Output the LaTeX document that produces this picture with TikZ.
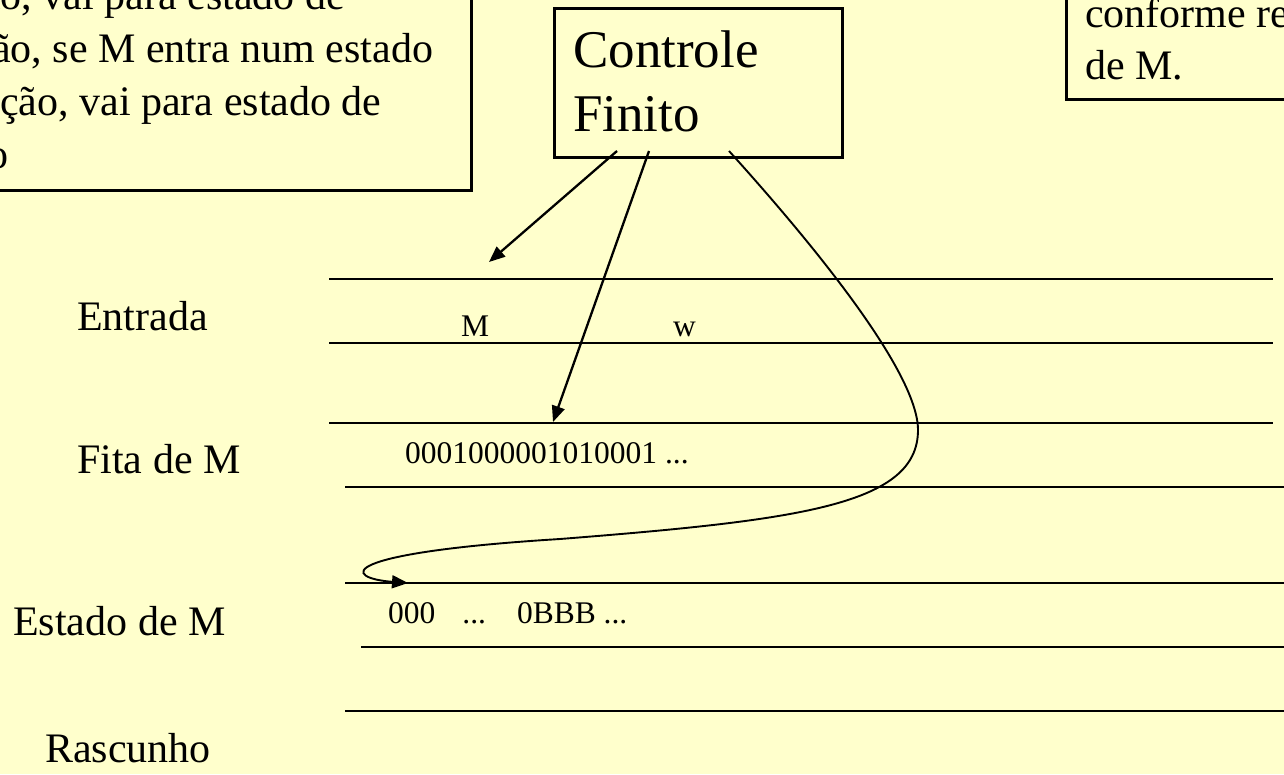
\documentclass[tikz,border=0pt]{standalone}
\usepackage{fontspec}
\setmainfont{Liberation Serif}
\usetikzlibrary{arrows.meta}
\definecolor{slidebg}{HTML}{FFFFCC}
\begin{document}
\begin{tikzpicture}[x=1pt,y=-1pt,
  tapeline/.style={line width=2.4pt},
  boxline/.style={draw, line width=2.6pt, inner sep=0pt},
  ptr/.style={line width=2.3pt, -{Triangle[length=16pt,width=13pt]}},
  big/.style={font=\fontsize{42}{52}\selectfont, inner sep=0pt, anchor=base west},
  huge/.style={font=\fontsize{53}{64}\selectfont, inner sep=0pt, align=left, anchor=north west},
  small/.style={font=\fontsize{31.5}{38}\selectfont, inner sep=0pt, anchor=base west}]
\useasboundingbox (0,0) rectangle (1284,774);
\fill[slidebg] (0,0) rectangle (1284,774);
\clip (0,0) rectangle (1284,774);

% boxes
\node[boxline, minimum width=483pt, minimum height=202pt, anchor=south east] (lbox) at (473,192) {};
\node[boxline, minimum width=240pt, minimum height=111pt, anchor=south west] (rbox) at (1065,101) {};
\node[boxline, minimum width=288pt, minimum height=149pt, anchor=north west] (cf) at (553,7) {};
\node[huge] (cft) at (573,31) {Controle\\Finito};

% left box text (clipped by the picture edge, as in the reference)
\node[big] (l1) at (-18,9) {ão, vai para estado de};
\node[big] (l2) at (-8,62) {ão, se M entra num estado};
\node[big] (l3) at (0,115) {ção, vai para estado de};
\node[big] (l4) at (-13,168) {o};

% right box text
\node[big, align=left, anchor=north west] (rt) at (1085,-2) {conforme re\\de M.};

% tapes
\draw[tapeline] (329,279) -- (1273,279);
\draw[tapeline] (329,343) -- (1273,343);
\draw[tapeline] (329,423) -- (1273,423);
\draw[tapeline] (345,487) -- (1290,487);
\draw[tapeline] (345,583) -- (1290,583);
\draw[tapeline] (361,647) -- (1290,647);
\draw[tapeline] (345,711) -- (1290,711);

% tape labels
\node[big] (entrada) at (77,330) {Entrada};
\node[big] (fita) at (77,473) {Fita de M};
\node[big] (estado) at (13,635) {Estado de M};
\node[big] (rascunho) at (45,762) {Rascunho};

% tape contents
\node[small] (symM) at (461,336) {M};
\node[small] (symw) at (673,336) {w};
\node[small] (codeM) at (405,463) {0001000001010001 ...};
\node[small] (codeS) at (388,623) {000\hspace{27pt}...\hspace{31pt}0BBB ...};

% heads
\coordinate (a1) at (617,151);
\coordinate (a2) at (649,151);
\coordinate (a3) at (729,151);
\coordinate (hIn) at (489,262);
\coordinate (hTape) at (553,422);
\coordinate (hState) at (408,583);
\draw[ptr] (a1) -- (hIn);
\draw[ptr] (a2) -- (hTape);
\draw[ptr, line width=1.9pt] (a3) .. controls (805,235) and (918,370) .. (918,430)
  .. controls (918,505) and (800,520) .. (560,539)
  .. controls (334,553) and (342,578) .. (hState);
\end{tikzpicture}
\end{document}
